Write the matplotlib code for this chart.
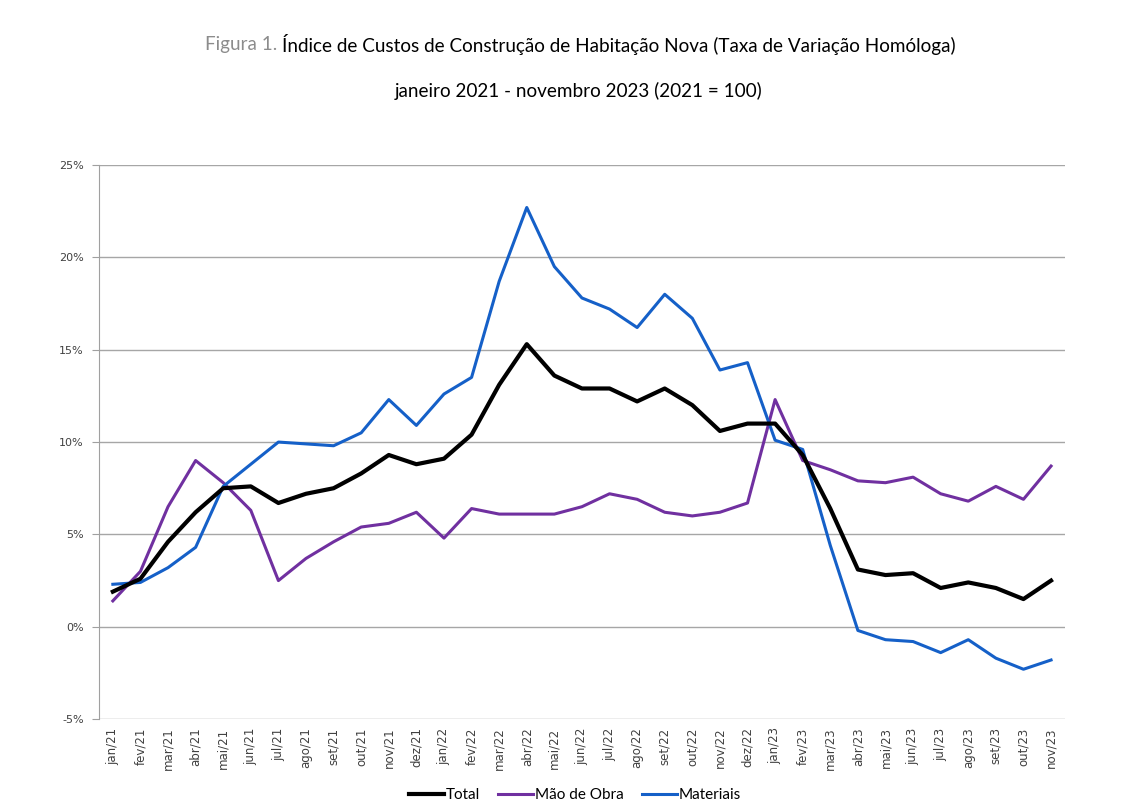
import numpy as np
import matplotlib
matplotlib.use("Agg")
import matplotlib.pyplot as plt
from matplotlib.ticker import FuncFormatter

# dados (taxa de variação homóloga, %)
meses = ["jan/21", "fev/21", "mar/21", "abr/21", "mai/21", "jun/21", "jul/21", "ago/21", "set/21",
         "out/21", "nov/21", "dez/21", "jan/22", "fev/22", "mar/22", "abr/22", "mai/22", "jun/22",
         "jul/22", "ago/22", "set/22", "out/22", "nov/22", "dez/22", "jan/23", "fev/23", "mar/23",
         "abr/23", "mai/23", "jun/23", "jul/23", "ago/23", "set/23", "out/23", "nov/23"]

total = [1.9, 2.6, 4.6, 6.2, 7.5, 7.6, 6.7, 7.2, 7.5, 8.3, 9.3, 8.8, 9.1, 10.4, 13.1, 15.3, 13.6, 12.9,
         12.9, 12.2, 12.9, 12.0, 10.6, 11.0, 11.0, 9.3, 6.4, 3.1, 2.8, 2.9, 2.1, 2.4, 2.1, 1.5, 2.5]

mao_obra = [1.4, 3.0, 6.5, 9.0, 7.8, 6.3, 2.5, 3.7, 4.6, 5.4, 5.6, 6.2, 4.8, 6.4, 6.1, 6.1, 6.1, 6.5,
            7.2, 6.9, 6.2, 6.0, 6.2, 6.7, 12.3, 9.0, 8.5, 7.9, 7.8, 8.1, 7.2, 6.8, 7.6, 6.9, 8.7]

materiais = [2.3, 2.4, 3.2, 4.3, 7.6, 8.8, 10.0, 9.9, 9.8, 10.5, 12.3, 10.9, 12.6, 13.5, 18.7, 22.7, 19.5, 17.8,
             17.2, 16.2, 18.0, 16.7, 13.9, 14.3, 10.1, 9.6, 4.4, -0.2, -0.7, -0.8, -1.4, -0.7, -1.7, -2.3, -1.8]

y_ticks = [-5, 0, 5, 10, 15, 20, 25]

plt.rcParams['font.family'] = ['Lato', 'DejaVu Sans']

fig = plt.figure(figsize=(11.45, 8.08), dpi=100)
ax = fig.add_axes([0.0865, 0.110, 0.8435, 0.6858])

x = np.arange(len(meses))
ax.plot(x, total, color='black', lw=3.0, label='Total', zorder=3)
ax.plot(x, mao_obra, color='#7030A0', lw=2.2, label='Mão de Obra', zorder=2)
ax.plot(x, materiais, color='#1560C8', lw=2.2, label='Materiais', zorder=2)

ax.set_xlim(-0.5, len(meses) - 0.5)
ax.set_ylim(-5, 25)
ax.set_yticks(y_ticks)
ax.yaxis.set_major_formatter(FuncFormatter(lambda v, p: f"{v:.0f}%"))
ax.set_xticks(x)
ax.set_xticklabels(meses, rotation=90, fontsize=8.5, family='DejaVu Sans', color='#404040')
ax.tick_params(axis='x', length=0, pad=6)
ax.tick_params(axis='y', length=5, color='#a0a0a0', labelsize=8, labelcolor='#404040', pad=6)
for lbl in ax.get_yticklabels():
    lbl.set_family('DejaVu Sans')

ax.grid(axis='y', color='#a6a6a6', lw=1)
ax.set_axisbelow(True)
for s in ['top', 'right', 'bottom']:
    ax.spines[s].set_visible(False)
ax.spines['left'].set_color('#a0a0a0')

# titulo: "Figura 1." em cinzento seguido do resto a preto
t1 = fig.text(0.179, 0.945, "Figura 1.", color='#8c8c8c', fontsize=13.6, ha='left', va='center')
r = fig.canvas.get_renderer()
bb = t1.get_window_extent(renderer=r)
x2 = (bb.x1 + 5) / fig.bbox.width
fig.text(x2, 0.945, "Índice de Custos de Construção de Habitação Nova (Taxa de Variação Homóloga)",
         color='black', fontsize=13.6, ha='left', va='center')
fig.text(0.505, 0.888, "janeiro 2021 - novembro 2023 (2021 = 100)", color='black', fontsize=13.6,
         ha='center', va='center')

fig.legend(loc='lower center', bbox_to_anchor=(0.502, -0.01), ncol=3, frameon=False, fontsize=11,
           handlelength=2.3, handletextpad=0.1, columnspacing=1.2)

fig.savefig('out.png', dpi=100)
